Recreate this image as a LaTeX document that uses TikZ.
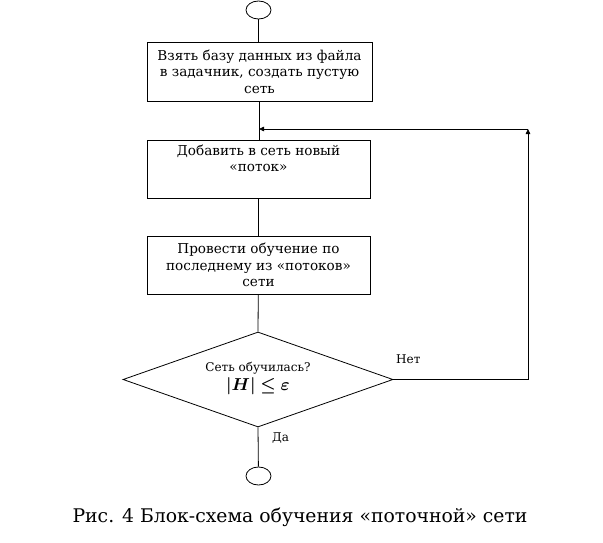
\documentclass[tikz,border=0pt]{standalone}
\usepackage{fontspec}
\usepackage{bm}
\setmainfont{DejaVu Serif}
\usetikzlibrary{arrows.meta,shapes.geometric}
\begin{document}
\begin{tikzpicture}[x=1pt,y=-1pt,
  box/.style={draw,line width=0.8pt,minimum width=223pt,minimum height=58pt,inner sep=0pt},
  txt/.style={align=center,font=\fontsize{13.6}{16.5}\selectfont,inner sep=0pt},
  term/.style={draw,line width=0.8pt,ellipse,minimum width=25pt,minimum height=18pt,inner sep=0pt},
  dec/.style={draw,line width=0.8pt,diamond,aspect=2.84,minimum width=270pt,minimum height=95pt,inner sep=0pt},
  line/.style={line width=0.8pt},
  arr/.style={line width=0.8pt,-{Triangle[length=5pt,width=4.5pt]}},
  lbl/.style={font=\fontsize{12}{14}\selectfont,inner sep=0pt}]
\useasboundingbox (0,0) rectangle (603,543);
\node[term] (start) at (258.5,10) {};
\node[box,minimum width=225pt,minimum height=59pt] (b1) at (259.5,71.5) {};
\node[txt] (t1) at (b1.center) {Взять базу данных из файла\\в задачник, создать пустую\\сеть};
\node[box] (b2) at (258.5,169) {};
\node[txt,anchor=north] (t2) at ([yshift=-5pt]b2.north) {Добавить в сеть новый\\«поток»};
\node[box] (b3) at (258.5,265) {};
\node[txt] (t3) at (b3.center) {Провести обучение по\\последнему из «потоков»\\сети};
\node[dec] (d) at (258,379.5) {};
\node[txt,font=\fontsize{12}{19}\selectfont] (td) at (258,378) {Сеть обучилась?\\\fontsize{16}{19}\selectfont$\bm{|H|\le\varepsilon}$};
\node[term] (end) at (258.5,476) {};
\coordinate (m) at (259,129);
\coordinate (r1) at (528,379.5);
\coordinate (r2) at (528,129);
\draw[line] (start) -- (start |- b1.north);
\draw[line] (b1.south -| m) -- (b2.north -| m);
\draw[line] (b2) -- (b3);
\draw[line] (b3) -- (d.north);
\draw[line] (d.south) -- (end);
\draw[arr] (d.east) -- (r1) -- (r2);
\draw[arr] (r2) -- (m);
\node[lbl,anchor=west] (no) at (396,359) {Нет};
\node[lbl,anchor=west] (yes) at (272,438) {Да};
\node[font=\fontsize{18.8}{22}\selectfont,inner sep=0pt] (cap) at (300,517) {Рис. 4 Блок-схема обучения «поточной» сети};
\end{tikzpicture}
\end{document}
